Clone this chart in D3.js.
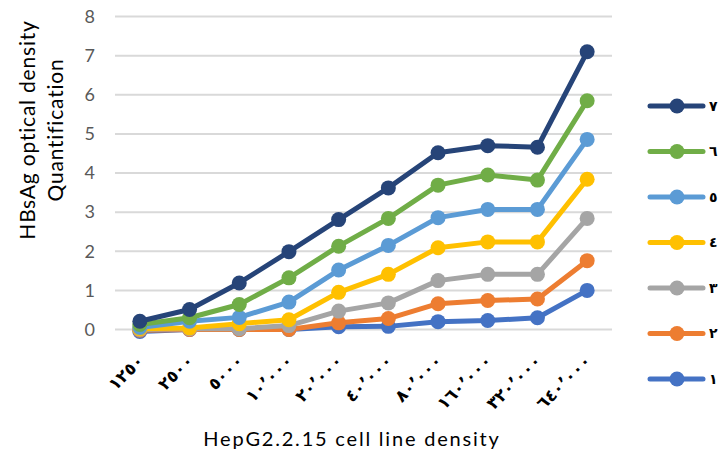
<!DOCTYPE html>
<html><head><meta charset="utf-8">
<script src="https://cdn.jsdelivr.net/npm/d3@7"></script>
<style>body{margin:0;background:#fff}svg{display:block}</style>
</head><body>
<svg id="c" width="721" height="456"></svg>
<script>
const categories = ["١٢٥٠","٢٥٠٠","٥٠٠٠","١٠٬٠٠٠","٢٠٬٠٠٠","٤٠٬٠٠٠","٨٠٬٠٠٠","١٦٠٬٠٠٠","٣٢٠٬٠٠٠","٦٤٠٬٠٠٠"];
const seriesNames = ["١","٢","٣","٤","٥","٦","٧"];
const seriesColors = ["#4472C4","#ED7D31","#A5A5A5","#FFC000","#5B9BD5","#70AD47","#264478"];
const s1 = [-0.05,0.0,0.0,0.0,0.07,0.08,0.2,0.23,0.3,1.0];
const s2 = [-0.02,0.0,0.0,0.0,0.17,0.28,0.66,0.74,0.78,1.76];
const s3 = [0.0,0.02,0.02,0.1,0.47,0.68,1.25,1.41,1.41,2.84];
const s4 = [0.02,0.04,0.15,0.25,0.95,1.41,2.09,2.24,2.24,3.84];
const s5 = [0.05,0.21,0.31,0.7,1.52,2.15,2.86,3.07,3.07,4.86];
const s6 = [0.13,0.3,0.64,1.32,2.13,2.84,3.69,3.95,3.82,5.85];
const s7 = [0.21,0.51,1.19,1.99,2.81,3.62,4.52,4.7,4.66,7.1];
const yTicks = [0,1,2,3,4,5,6,7,8];
const seriesValues = [s1,s2,s3,s4,s5,s6,s7];

const svg = d3.select("#c");
const x = d3.scaleBand().domain(categories).range([115, 612]);
const y = d3.scaleLinear().domain([0, 8]).range([329.5, 16.6]);

// gridlines
svg.append("g").selectAll("line").data(yTicks).join("line")
  .attr("x1", 115).attr("x2", 612)
  .attr("y1", d => y(d)).attr("y2", d => y(d))
  .attr("stroke", "#d9d9d9").attr("stroke-width", 2);

// y tick labels
svg.append("g").selectAll("text").data(yTicks).join("text")
  .attr("x", 95).attr("y", d => y(d)).attr("dy", "0.35em")
  .attr("text-anchor", "end")
  .attr("font-family", "Lato, 'Open Sans', sans-serif").attr("font-size", 18)
  .attr("fill", "#595959").text(d => d);

// x tick labels
svg.append("g").selectAll("text").data(categories).join("text")
  .attr("transform", d => `translate(${x(d) + x.bandwidth()/2 + 5},${362}) rotate(-45)`)
  .attr("text-anchor", "end")
  .attr("font-family", "'DejaVu Sans', sans-serif").attr("font-size", 17).attr("font-weight", "bold")
  .attr("fill", "#000").text(d => d);

const line = d3.line().x((d, i) => x(categories[i]) + x.bandwidth()/2).y(d => y(d));

seriesValues.forEach((vals, k) => {
  const g = svg.append("g");
  g.append("path").datum(vals).attr("d", line)
    .attr("fill", "none").attr("stroke", seriesColors[k]).attr("stroke-width", 5)
    .attr("stroke-linejoin", "round").attr("stroke-linecap", "round");
  g.selectAll("circle").data(vals).join("circle")
    .attr("cx", (d, i) => x(categories[i]) + x.bandwidth()/2)
    .attr("cy", d => y(d)).attr("r", 7.5)
    .attr("fill", seriesColors[k]);
});

// legend
const legendOrder = d3.range(seriesNames.length).reverse();
const lg = svg.append("g");
legendOrder.forEach((k, j) => {
  const ly = 106 + j * 45.5;
  lg.append("line").attr("x1", 650).attr("x2", 703).attr("y1", ly).attr("y2", ly)
    .attr("stroke", seriesColors[k]).attr("stroke-width", 5).attr("stroke-linecap", "round");
  lg.append("circle").attr("cx", 677).attr("cy", ly).attr("r", 7.5).attr("fill", seriesColors[k]);
  lg.append("text").attr("x", 709).attr("y", ly).attr("dy", "0.35em")
    .attr("font-family", "'DejaVu Sans', sans-serif").attr("font-size", 14).attr("font-weight", "bold")
    .attr("fill", "#000").text(seriesNames[k]);
});

// axis titles
const yt = svg.append("text").attr("transform", "translate(42,130) rotate(-90)")
  .attr("text-anchor", "middle")
  .attr("font-family", "Lato, 'Open Sans', sans-serif").attr("font-size", 21)
  .attr("letter-spacing", 0.8).attr("fill", "#000");
yt.append("tspan").attr("x", 0).attr("y", -7).text("HBsAg optical density");
yt.append("tspan").attr("x", 0).attr("y", 21).text("Quantification");

svg.append("text").attr("x", 352).attr("y", 446).attr("text-anchor", "middle")
  .attr("font-family", "Lato, 'Open Sans', sans-serif").attr("font-size", 20)
  .attr("letter-spacing", 1.8).attr("fill", "#000")
  .text("HepG2.2.15 cell line density");
</script>
</body></html>
